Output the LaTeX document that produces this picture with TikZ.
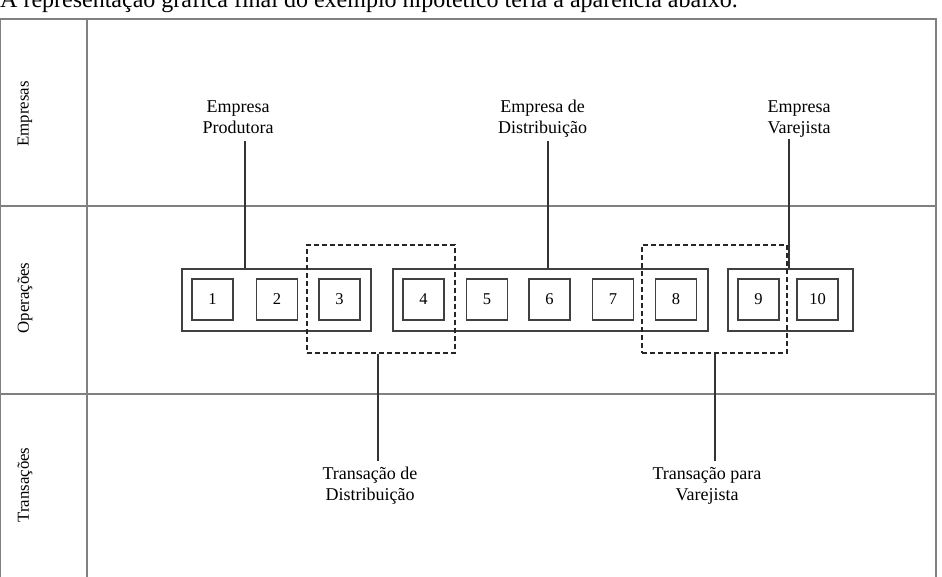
\documentclass[tikz,border=0pt]{standalone}
\usepackage{fontspec}
\setmainfont{Liberation Serif}
\begin{document}
\begin{tikzpicture}[x=1pt,y=-1pt,
  frame/.style={draw=black!50,line width=1.4pt},
  group/.style={draw=black!75,line width=1.3pt,minimum height=62pt,inner sep=0pt},
  item/.style={draw=black!75,line width=1.3pt,minimum size=41pt,inner sep=0pt,font=\fontsize{16.5}{18}\selectfont},
  trans/.style={draw=black!85,line width=1.1pt,dash pattern=on 5pt off 3pt,minimum height=108pt,inner sep=0pt},
  lbl/.style={align=center,inner sep=0pt,font=\fontsize{18}{20.5}\selectfont},
  row/.style={rotate=90,inner sep=0pt,font=\fontsize{16.8}{18}\selectfont},
  link/.style={draw=black!80,line width=1.3pt}]
\useasboundingbox (0,0) rectangle (942,576);
\fill[white] (0,0) rectangle (942,576);
% caption (cut at top, as in the reference)
\node[anchor=base west,inner sep=0pt,font=\fontsize{24}{26}\selectfont] (cap) at (0,7) {A representação gráfica final do exemplo hipotético teria a aparência abaixo.};
% frame
\draw[frame] (0,19) rectangle (936,590);
\draw[frame] (87,19) -- (87,590);
\draw[frame] (0,206) -- (936,206);
\draw[frame] (0,394) -- (936,394);
\node[row] (rE) at (25,114) {Empresas};
\node[row] (rO) at (25,298) {Operações};
\node[row] (rT) at (25,485) {Transações};
% groups
\node[group,minimum width=189pt] (g1) at (276.5,300) {};
\node[group,minimum width=315pt] (g2) at (550.5,300) {};
\node[group,minimum width=125pt] (g3) at (790.5,300) {};
% items
\node[item] (b1) at (212.5,299.5) {1};
\node[item] (b2) at (277,299.5) {2};
\node[item] (b3) at (339.5,299.5) {3};
\node[item] (b4) at (423.5,299.5) {4};
\node[item] (b5) at (487,299.5) {5};
\node[item] (b6) at (549.5,299.5) {6};
\node[item] (b7) at (613,299.5) {7};
\node[item] (b8) at (676,299.5) {8};
\node[item] (b9) at (758.5,299.5) {9};
\node[item] (b10) at (817.5,299.5) {10};
% transactions
\node[trans,minimum width=148pt] (d1) at (381,299) {};
\node[trans,minimum width=145pt] (d2) at (714.5,299) {};
% company labels (base = baseline of the last line)
\node[lbl,anchor=base] (lP) at (238,133) {Empresa\\Produtora};
\node[lbl,anchor=base] (lD) at (542.5,133) {Empresa de\\Distribuição};
\node[lbl,anchor=base] (lV) at (799,133) {Empresa\\Varejista};
\coordinate (cP) at (245,141);
\coordinate (cD) at (548,141);
\coordinate (cV) at (789,139);
\draw[link] (cP) -- (cP |- g1.north);
\draw[link] (cD) -- (cD |- g2.north);
\draw[link] (cV) -- (cV |- g3.north);
% transaction labels
\node[lbl,anchor=base,font=\fontsize{18}{21}\selectfont] (tD) at (370,500) {Transação de\\Distribuição};
\node[lbl,anchor=base,font=\fontsize{18}{21}\selectfont] (tV) at (707,500) {Transação para\\Varejista};
\coordinate (cT1) at (378,461);
\coordinate (cT2) at (715,461);
\draw[link] (cT1 |- d1.south) -- (cT1);
\draw[link] (cT2 |- d2.south) -- (cT2);
\end{tikzpicture}
\end{document}
